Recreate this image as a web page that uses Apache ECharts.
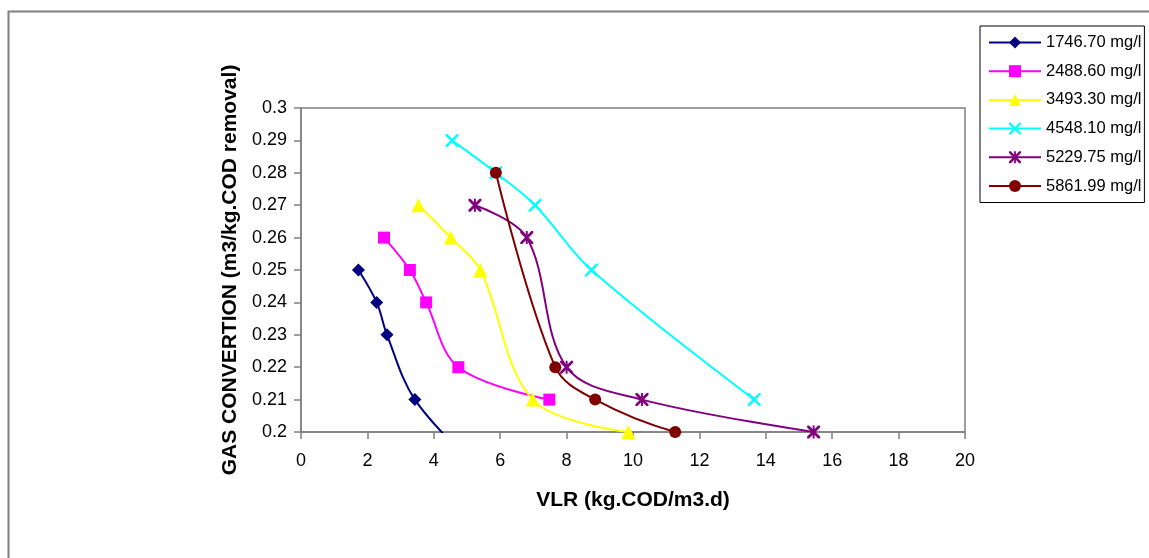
<!DOCTYPE html>
<html>
<head>
<meta charset="utf-8">
<script src="https://cdn.jsdelivr.net/npm/echarts@6/dist/echarts.min.js"></script>
<style>
  html, body { margin: 0; padding: 0; background: #ffffff; }
  #chart { width: 1149px; height: 558px; }
</style>
</head>
<body>
<div id="chart"></div>
<script>
// Gas conversion vs. volumetric loading rate, one curve per influent COD
const seriesNames = ['1746.70 mg/l', '2488.60 mg/l', '3493.30 mg/l', '4548.10 mg/l', '5229.75 mg/l', '5861.99 mg/l'];

// [VLR, gas conversion] pairs
const cod1746 = [[1.73, 0.25], [2.28, 0.24], [2.59, 0.23], [3.43, 0.21], [5.2, 0.19]];
const cod2488 = [[2.5, 0.26], [3.28, 0.25], [3.77, 0.24], [4.74, 0.22], [7.48, 0.21]];
const cod3493 = [[3.54, 0.27], [4.51, 0.26], [5.4, 0.25], [6.98, 0.21], [9.86, 0.20]];
const cod4548 = [[4.55, 0.29], [5.87, 0.28], [7.05, 0.27], [8.75, 0.25], [13.65, 0.21]];
const cod5229 = [[5.24, 0.27], [6.8, 0.26], [8.0, 0.22], [10.27, 0.21], [15.44, 0.20]];
const cod5861 = [[5.87, 0.28], [7.66, 0.22], [8.86, 0.21], [11.27, 0.20], [14.0, 0.195]];

const xTicks = [0, 2, 4, 6, 8, 10, 12, 14, 16, 18, 20];
const yTicks = [0.2, 0.21, 0.22, 0.23, 0.24, 0.25, 0.26, 0.27, 0.28, 0.29, 0.3];

const seriesData = [cod1746, cod2488, cod3493, cod4548, cod5229, cod5861];
const colors = ['#000080', '#ff00ff', '#ffff00', '#00ffff', '#800080', '#800000'];

const crossPath = 'path://M0,0 L1.6,0 L12,10.4 L12,12 L10.4,12 L0,1.6 Z M10.4,0 L12,0 L12,1.6 L1.6,12 L0,12 L0,10.4 Z';
const starPath = 'path://M0,0 L1.8,0 L12,10.2 L12,12 L10.2,12 L0,1.8 Z M10.2,0 L12,0 L12,1.8 L1.8,12 L0,12 L0,10.2 Z M5.1,0 L6.9,0 L6.9,12 L5.1,12 Z';
const symbols = ['diamond', 'rect', 'triangle', crossPath, starPath, 'circle'];
const symbolSizes = [13, 12, 14, 13, 13, 12];

const baseFont = 'Liberation Sans, Arial, sans-serif';

const chart = echarts.init(document.getElementById('chart'), null, { renderer: 'canvas' });

const option = {
  backgroundColor: '#ffffff',
  animation: false,
  graphic: [{
    type: 'rect',
    left: 6, top: 9,
    shape: { x: 0, y: 0, width: 1300, height: 700 },
    style: { fill: 'none', stroke: '#808080', lineWidth: 2 },
    silent: true,
    z: -10
  }],
  grid: {
    left: 301, top: 108, width: 664, height: 324,
    show: true, borderColor: '#808080', borderWidth: 1.5, backgroundColor: 'transparent'
  },
  legend: {
    data: seriesNames,
    orient: 'vertical',
    left: 980, top: 26,
    padding: [8, 3, 8, 8],
    itemWidth: 52, itemHeight: 15, itemGap: 11.7,
    borderColor: '#000000', borderWidth: 1,
    textStyle: { fontFamily: baseFont, fontSize: 16.5, color: '#000000' }
  },
  xAxis: {
    type: 'value',
    min: xTicks[0], max: xTicks[xTicks.length - 1], interval: 2,
    name: 'VLR (kg.COD/m3.d)',
    nameLocation: 'middle', nameGap: 58,
    nameTextStyle: { fontFamily: baseFont, fontWeight: 'bold', fontSize: 21, color: '#000000' },
    axisLine: { show: true, lineStyle: { color: '#808080', width: 1.5 } },
    axisTick: { show: true, length: 7, lineStyle: { color: '#808080', width: 1.5 } },
    axisLabel: { margin: 20, fontFamily: baseFont, fontSize: 18, color: '#000000' },
    splitLine: { show: false }
  },
  yAxis: {
    type: 'value',
    min: yTicks[0], max: yTicks[yTicks.length - 1], interval: 0.01,
    name: 'GAS CONVERTION (m3/kg.COD removal)',
    nameLocation: 'middle', nameGap: 60, nameRotate: 90,
    nameTextStyle: { fontFamily: baseFont, fontWeight: 'bold', fontSize: 21, color: '#000000' },
    axisLine: { show: true, lineStyle: { color: '#808080', width: 1.5 } },
    axisTick: { show: true, length: 7, lineStyle: { color: '#808080', width: 1.5 } },
    axisLabel: {
      margin: 14, fontFamily: baseFont, fontSize: 18, color: '#000000',
      formatter: function (v) { return String(Math.round(v * 100) / 100); }
    },
    splitLine: { show: false }
  },
  series: seriesNames.map(function (name, i) {
    return {
      name: name,
      type: 'line',
      data: seriesData[i],
      smooth: 0.35,
      clip: true,
      symbol: symbols[i],
      symbolSize: symbolSizes[i],
      showAllSymbol: true,
      lineStyle: { color: colors[i], width: 2 },
      itemStyle: { color: colors[i] },
      emphasis: { disabled: true }
    };
  })
};

chart.setOption(option);
</script>
</body>
</html>
